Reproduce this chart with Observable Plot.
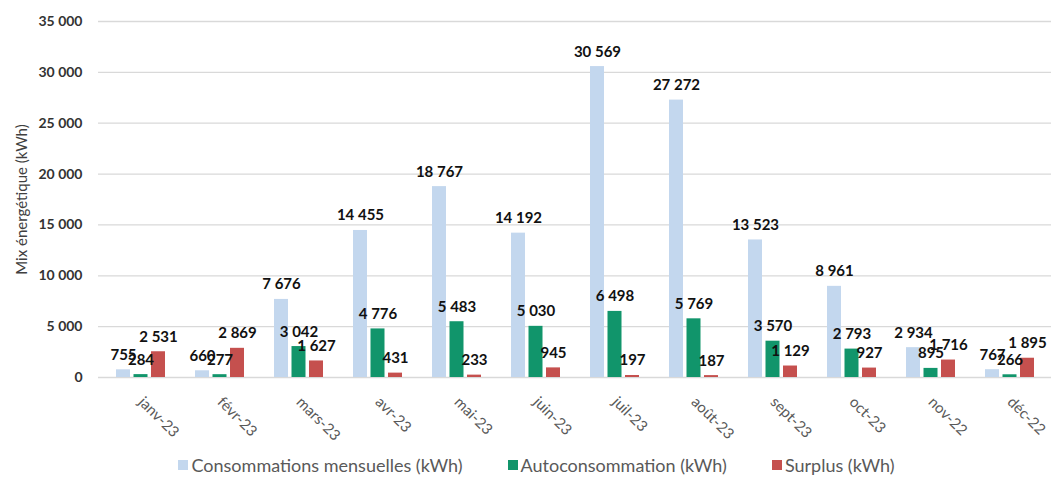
<!DOCTYPE html>
<html>
<head>
<meta charset="utf-8">
<script src="https://cdn.jsdelivr.net/npm/d3@7"></script>
<script src="https://cdn.jsdelivr.net/npm/@observablehq/plot@0.6"></script>
<style>
  body { margin: 0; background: #fff; font-family: Lato, "Open Sans", sans-serif; }
  #legend { display: flex; justify-content: center; gap: 45px; font-size: 18px; color: #595959; margin-top: 2px; padding-left: 22px; }
  #legend span.item { display: flex; align-items: center; }
  #legend span.sw { display: inline-block; width: 10px; height: 10px; margin-right: 3px; }
</style>
</head>
<body>
<div id="chart"></div>
<div id="legend"></div>
<script>
const months = ["janv-23", "févr-23", "mars-23", "avr-23", "mai-23", "juin-23", "juil-23", "août-23", "sept-23", "oct-23", "nov-22", "déc-22"];
const consommations = [755, 660, 7676, 14455, 18767, 14192, 30569, 27272, 13523, 8961, 2934, 767];
const autoconsommation = [284, 277, 3042, 4776, 5483, 5030, 6498, 5769, 3570, 2793, 895, 266];
const surplus = [2531, 2869, 1627, 431, 233, 945, 197, 187, 1129, 927, 1716, 1895];
const seriesNames = ["Consommations mensuelles (kWh)", "Autoconsommation (kWh)", "Surplus (kWh)"];
const seriesColors = ["#c3d7ee", "#11956b", "#c5504e"];
const yTicks = [0, 5000, 10000, 15000, 20000, 25000, 30000, 35000];
const yLabel = "Mix énergétique (kWh)";

const fmt = d => d3.format(",")(d).replace(/,/g, "\u00a0");
const seriesValues = [consommations, autoconsommation, surplus];
const data = seriesValues.map((vals, s) => months.map((m, i) => ({month: m, series: seriesNames[s], value: vals[i]})));

// bar geometry within each month band
const barInsets = [[0, 35], [17.5, 17.5], [35, 0]];
const labelDx = [-17.5, 0, 17.5];

const marks = [
  Plot.ruleY(yTicks, {stroke: "#d9d9d9", strokeWidth: 1.3})
];
data.forEach((d, s) => {
  marks.push(Plot.barY(d, {x: "month", y: "value", fill: seriesColors[s], insetLeft: barInsets[s][0], insetRight: barInsets[s][1]}));
});
data.forEach((d, s) => {
  marks.push(Plot.text(d, {x: "month", y: "value", text: d => fmt(d.value), dx: labelDx[s], dy: -10, lineAnchor: "bottom", fontSize: 15, fontWeight: "bold", fill: "#111"}));
});
marks.push(Plot.axisY({ticks: yTicks, tickFormat: fmt, tickSize: 0, tickPadding: 16, fontSize: 14, fontWeight: "bold", fill: "#333", label: null}));
marks.push(Plot.text([yLabel], {frameAnchor: "left", textAnchor: "middle", rotate: -90, dx: -76, fontSize: 15, fill: "#404040"}));
marks.push(Plot.axisX({tickRotate: 45, tickSize: 0, tickPadding: 22, fontSize: 15, fill: "#595959", label: null}));

const chart = Plot.plot({
  width: 1051,
  height: 452,
  marginLeft: 98,
  marginRight: 0,
  marginTop: 21,
  marginBottom: 75,
  style: {fontFamily: "Lato, 'Open Sans', sans-serif", background: "#fff", overflow: "visible"},
  x: {domain: months, paddingInner: 0.38, paddingOuter: 0.19, align: 0.5},
  y: {domain: [0, 35000]},
  marks
});
document.getElementById("chart").appendChild(chart);

const legend = document.getElementById("legend");
seriesNames.forEach((n, i) => {
  const item = document.createElement("span");
  item.className = "item";
  const sw = document.createElement("span");
  sw.className = "sw";
  sw.style.background = seriesColors[i];
  item.appendChild(sw);
  item.appendChild(document.createTextNode(n));
  legend.appendChild(item);
});
</script>
</body>
</html>
